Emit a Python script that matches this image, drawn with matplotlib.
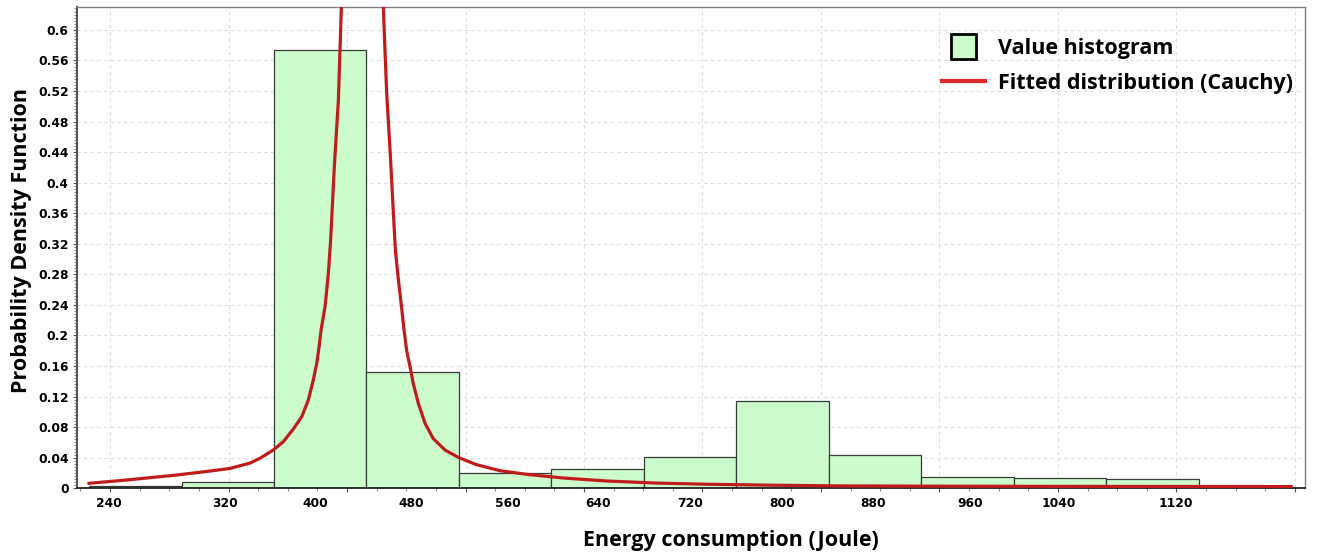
import numpy as np
import matplotlib
matplotlib.use('Agg')
import matplotlib.pyplot as plt
from matplotlib.lines import Line2D
from matplotlib.ticker import MultipleLocator

# histogram bins (Joule) and bar heights
bin_centers = [240, 320, 400, 480, 560, 640, 720, 800, 880, 960, 1040, 1120]
bin_heights = [0.003, 0.008, 0.573, 0.152, 0.020, 0.025, 0.041, 0.114,
               0.044, 0.015, 0.013, 0.012]

# fitted Cauchy curve (left and right of the peak)
left_x = [200, 233, 276, 305, 322, 339.3, 347.9, 359.4, 368.1, 376.7, 384,
          389.7, 394, 397, 399, 400.7, 404.2, 407, 409, 412.2, 415.7, 417.1,
          418.3, 418.8]
left_y = [0.0065, 0.0109, 0.0174, 0.0226, 0.026, 0.033, 0.0393, 0.0501,
          0.061, 0.0775, 0.0937, 0.1156, 0.1418, 0.1636, 0.185, 0.207, 0.238,
          0.281, 0.325, 0.421, 0.508, 0.574, 0.630, 0.660]
right_x = [454.2, 454.6, 456, 457.5, 460.4, 462.7, 465, 467.6, 470.5, 472.5,
           474.7, 477.7, 480.5, 484.9, 490.7, 497.8, 508, 520, 535, 555.5,
           580, 610, 648, 691, 734, 792, 850, 950, 1100, 1240]
right_y = [0.660, 0.630, 0.574, 0.517, 0.443, 0.377, 0.312, 0.273, 0.235,
           0.207, 0.181, 0.159, 0.137, 0.111, 0.085, 0.065, 0.050, 0.040,
           0.031, 0.023, 0.018, 0.0135, 0.0095, 0.0068, 0.0053, 0.0040,
           0.0031, 0.0027, 0.0024, 0.0022]

# tick labels as they sit under the axis
xlabel_text = ['240', '320', '400', '480', '560', '640', '720', '800',
               '880', '960', '1040', '1120']
xlabel_pos = [217, 318, 396, 479, 562, 640, 720, 800, 878, 962, 1039, 1140]

bar_color = '#ccfccc'
curve_color = '#c01c1c'

fig = plt.figure(figsize=(13.17, 5.56), dpi=100)
ax = fig.add_axes([0.0585, 0.1218, 0.9324, 0.8657])

ax.bar(bin_centers, bin_heights, width=80, color=bar_color,
       edgecolor='#3a3a3a', linewidth=0.9, zorder=2)
ax.plot(left_x, left_y, color=curve_color, lw=2.3, zorder=3)
ax.plot(right_x, right_y, color=curve_color, lw=2.3, zorder=3)

ax.set_xlim(189.6, 1252)
ax.set_ylim(0, 0.630)

# y axis
yticks = np.arange(0, 0.61, 0.04)
ax.set_yticks(yticks)
ax.set_yticklabels(['{:g}'.format(round(v, 2)) for v in yticks],
                   fontsize=8.8, fontweight='bold')
ax.yaxis.set_minor_locator(MultipleLocator(0.004))

# x axis: ticks/grid from the underlying scale, labels placed separately
ax.xaxis.set_major_locator(MultipleLocator(102.5, offset=218.2))
ax.xaxis.set_minor_locator(MultipleLocator(102.5 / 4, offset=218.2))
ax.set_xticklabels([])
for lab, pos in zip(xlabel_text, xlabel_pos):
    ax.text(pos, -0.031, lab, transform=ax.get_xaxis_transform(),
            ha='center', va='center', fontsize=8.8, fontweight='bold')

ax.tick_params(axis='both', which='major', length=3, width=0.8,
               color='#555555', pad=3)
ax.tick_params(axis='both', which='minor', length=2, width=0.6,
               color='#777777')

ax.grid(True, which='major', color='#dddddd', linestyle=(0, (3, 3)),
        linewidth=0.8, zorder=0)
ax.set_axisbelow(True)

for s in ['top', 'right']:
    ax.spines[s].set_color('#808080')
    ax.spines[s].set_linewidth(1)
ax.spines['left'].set_color('#555555')
ax.spines['left'].set_linewidth(1.5)
ax.spines['bottom'].set_color('#111111')
ax.spines['bottom'].set_linewidth(1.2)

lab_font = {'family': 'Open Sans', 'weight': 'bold', 'size': 15.5}
ax.set_xlabel('Energy consumption (Joule)', fontdict=lab_font)
ax.xaxis.set_label_coords(0.5326, -0.087)
ax.set_ylabel('Probability Density Function', fontdict=lab_font)
ax.yaxis.set_label_coords(-0.037, 0.514)

# legend
h_bar = Line2D([], [], marker='s', markersize=18, markerfacecolor=bar_color,
               markeredgecolor='black', markeredgewidth=2, linestyle='none')
h_line = Line2D([], [], color='#dd2a2a', lw=3)
ax.legend([h_bar, h_line], ['Value histogram', 'Fitted distribution (Cauchy)'],
          loc='upper left', bbox_to_anchor=(0.6955, 0.958), frameon=False,
          borderpad=0, handlelength=2.0, handletextpad=0.6,
          labelspacing=0.64, prop=lab_font)

fig.savefig('out.png', dpi=100)
